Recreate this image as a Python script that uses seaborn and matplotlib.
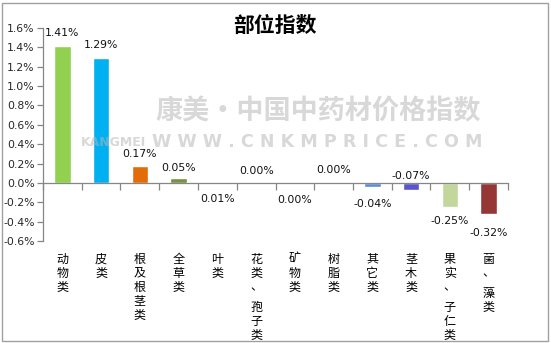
import matplotlib
matplotlib.use("Agg")
import matplotlib.pyplot as plt
import seaborn as sns
import pandas as pd
from matplotlib.patches import Rectangle
from matplotlib.ticker import FixedLocator, FuncFormatter

# Price index change by medicinal part (%)
categories = ["动物类", "皮类", "根及根茎类", "全草类", "叶类", "花类、 孢子类",
              "矿物类", "树脂类", "其它类", "茎木类", "果实、 子仁类", "菌、 藻类"]
values = [1.41, 1.29, 0.17, 0.05, 0.01, 0.003, 0.0, 0.0, -0.04, -0.07, -0.25, -0.32]
bar_colors = ["#92D050", "#00B0F0", "#E36C09", "#77933C", "#7030A0", "#8EA54A",
              "#4F81BD", "#C0504D", "#558ED5", "#5B54CC", "#C3D69B", "#953735"]
y_ticks = [-0.6, -0.4, -0.2, 0.0, 0.2, 0.4, 0.6, 0.8, 1.0, 1.2, 1.4, 1.6]
title = "部位指数"

# vertical offset (pixels) of each value label from the end of its bar
label_offsets = [13, 13, 12, 10, -17, 12, -17, 13, -17, 14, -14, -19]

sns.set_theme(style="white")
plt.rcParams["font.family"] = ["Noto Sans CJK SC", "DejaVu Sans"]

df = pd.DataFrame({"part": categories, "value": values})

fig = plt.figure(figsize=(5.51, 3.43), dpi=100)
ax = fig.add_axes([43 / 551, 1 - 241 / 343, 465 / 551, 213 / 343])

sns.barplot(data=df, x="part", y="value", hue="part", palette=bar_colors,
            legend=False, width=0.42, ax=ax, saturation=1, zorder=2)

axis_gray = "#868686"
ax.set_xlim(-0.5, len(categories) - 0.5)
ax.set_ylim(y_ticks[0], y_ticks[-1])
ax.set_xlabel("")
ax.set_ylabel("")

for side in ["top", "right"]:
    ax.spines[side].set_visible(False)
ax.spines["left"].set_color(axis_gray)
ax.spines["left"].set_linewidth(0.9)
ax.spines["bottom"].set_position(("data", 0))
ax.spines["bottom"].set_color(axis_gray)
ax.spines["bottom"].set_linewidth(0.9)

ax.yaxis.set_major_locator(FixedLocator(y_ticks))
ax.yaxis.set_major_formatter(FuncFormatter(lambda v, _: f"{v:.1f}%"))
ax.tick_params(axis="y", which="major", direction="out", length=4, width=0.9,
               color=axis_gray, labelsize=7.8, pad=2, left=True)
for lbl in ax.get_yticklabels():
    lbl.set_fontfamily("DejaVu Sans")

# category separators on the zero line
ax.xaxis.set_major_locator(FixedLocator([i - 0.5 for i in range(len(categories) + 1)]))
ax.set_xticklabels([])
ax.tick_params(axis="x", which="major", direction="out", length=5, width=0.9,
               color=axis_gray, bottom=True)

# category names, one character per row below the plot area
pitch = 14
for i, name in enumerate(categories):
    dy = 18
    for ch in name:
        if ch == " ":
            dy += 6
            continue
        ax.annotate(ch, xy=(i, 0), xycoords=("data", "axes fraction"),
                    xytext=(0, -dy), textcoords="offset pixels",
                    ha="center", va="center", fontsize=8.7, color="#000000")
        dy += pitch

# value labels
for i, (v, off) in enumerate(zip(values, label_offsets)):
    ax.annotate(f"{v:.2f}%", xy=(i, v), xycoords="data",
                xytext=(0, off), textcoords="offset pixels",
                ha="center", va="center", fontsize=7.8, color="#111111",
                family="DejaVu Sans", zorder=4)

# site watermark
wm = dict(fontweight="bold", color="#b8b8b8", alpha=0.55, zorder=5)
fig.text(318 / 551, 1 - 111 / 343, "康美·中国中药材价格指数", ha="center", va="center",
         fontsize=19.5, **wm)
fig.text(146 / 551, 1 - 142 / 343, "KANGMEI", ha="right", va="center",
         fontsize=9, family="DejaVu Sans", **wm)
fig.text(317 / 551, 1 - 142 / 343, "W W W . C N K M P R I C E . C O M", ha="center",
         va="center", fontsize=12.6, family="DejaVu Sans", **wm)

fig.text(275 / 551, 1 - 25 / 343, title, ha="center", va="center",
         fontsize=15, fontweight="bold", color="#000000")

fig.patches.append(Rectangle((2 / 551, 2 / 343), 546 / 551, 338 / 343,
                             transform=fig.transFigure, fill=False,
                             edgecolor="#a0a0a0", linewidth=1.0))

fig.savefig("out.png", dpi=100)
